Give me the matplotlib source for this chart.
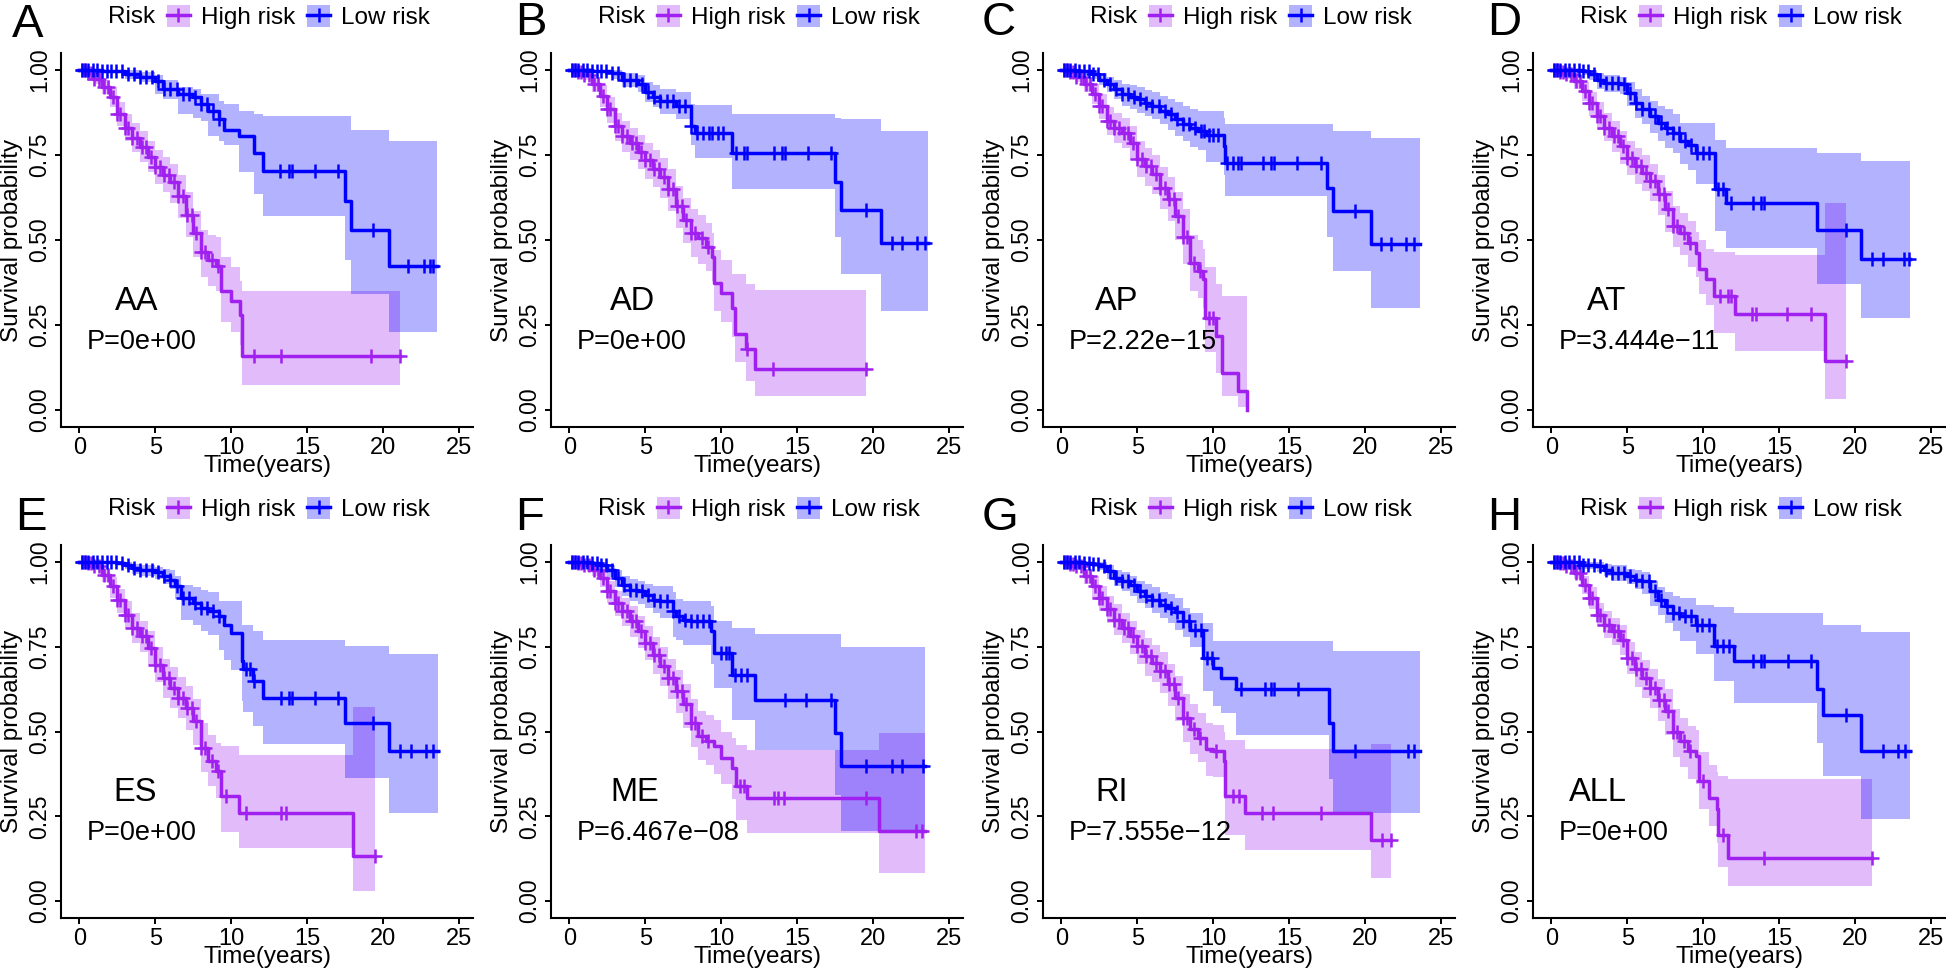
import numpy as np
import matplotlib.pyplot as plt
from matplotlib.patches import Patch
from matplotlib.lines import Line2D

plt.rcParams['font.family'] = ['Liberation Sans', 'DejaVu Sans']

# ---- data: rows are (time, survival, lower CI, upper CI) ----
panel_letters = ['A', 'B', 'C', 'D', 'E', 'F', 'G', 'H']
set_names = ['AA', 'AD', 'AP', 'AT', 'ES', 'ME', 'RI', 'ALL']
p_values = ['P=0e+00', 'P=0e+00', 'P=2.22e\u221215', 'P=3.444e\u221211',
            'P=0e+00', 'P=6.467e\u221208', 'P=7.555e\u221212', 'P=0e+00']
groups = ['High risk', 'Low risk']

# censoring marks seen densely along the early part of every curve
high_early_cens = [0.2, 0.4, 0.6, 0.8, 1.0, 1.3, 1.6, 1.9, 2.2, 2.5, 2.7, 3.0, 3.2,
                   3.5, 3.8, 4.1, 4.4, 4.7, 5.0, 5.3, 5.6, 5.9, 6.2, 6.5, 6.8, 7.1,
                   7.4, 7.7, 8.0, 8.3, 8.7, 9.1]
low_early_cens = [0.2, 0.4, 0.6, 0.9, 1.2, 1.5, 1.8, 2.1, 2.4, 2.8, 3.2, 3.6, 4.0,
                  4.4, 4.8, 5.2, 5.6, 6.0, 6.4, 6.8, 7.2, 7.6, 8.0, 8.4, 8.8, 9.2]

aa_high = [(0, 1, 1, 1), (0.5, .99, .98, 1), (1.0, .975, .96, .99), (1.5, .95, .93, .97),
           (2.0, .92, .89, .95), (2.5, .87, .835, .905), (3.0, .83, .79, .87),
           (3.5, .80, .76, .845), (4.0, .775, .73, .82), (4.5, .745, .70, .79),
           (5.0, .715, .665, .765), (5.5, .69, .64, .745), (6.0, .67, .61, .725),
           (6.5, .63, .565, .69), (7.0, .575, .51, .64), (7.5, .52, .45, .585),
           (8.0, .465, .39, .53), (8.5, .44, .365, .515), (9.0, .425, .35, .51),
           (9.35, .35, .26, .45), (10.0, .32, .23, .42), (10.55, .28, .19, .38),
           (10.7, .16, .075, .35), (21.1, .16, .075, .35)]
aa_high_cens = [11.5, 13.3, 19.2, 21.1]
aa_low = [(0, 1, 1, 1), (1.5, .997, .99, 1), (3.0, .987, .975, 1), (4.0, .98, .965, .995),
          (5.0, .968, .93, .985), (5.5, .943, .915, .97), (6.5, .93, .87, .95),
          (7.5, .92, .86, .945), (8.0, .90, .85, .93), (8.5, .88, .805, .93),
          (9.2, .855, .79, .91), (9.5, .825, .78, .90), (10.5, .805, .70, .88),
          (11.5, .757, .635, .87), (12.1, .703, .57, .865), (17.5, .615, .44, .865),
          (17.9, .528, .34, .825), (20.4, .425, .23, .79), (23.5, .425, .23, .79)]
aa_low_cens = [13.2, 13.8, 14.0, 15.5, 17.0, 19.3, 21.6, 22.7, 23.1, 23.3]

ad_high = [(0, 1, 1, 1), (0.5, .995, .99, 1), (1.0, .985, .97, 1), (1.5, .96, .935, .98),
           (2.0, .925, .89, .955), (2.5, .885, .845, .92), (3.0, .835, .79, .875),
           (3.5, .805, .76, .85), (4.0, .785, .735, .83), (4.5, .76, .71, .81),
           (5.0, .735, .68, .785), (5.5, .71, .655, .765), (6.0, .685, .625, .74),
           (6.5, .65, .585, .71), (7.0, .60, .535, .66), (7.5, .56, .49, .625),
           (8.0, .52, .45, .59), (8.5, .505, .43, .575), (9.0, .48, .41, .55),
           (9.4, .45, .38, .52), (9.5, .375, .29, .47), (10.0, .345, .26, .44),
           (10.7, .30, .215, .40), (10.9, .225, .14, .40), (11.6, .18, .085, .37),
           (12.2, .12, .04, .353), (19.5, .12, .04, .353)]
ad_high_cens = [11.7, 13.4, 19.5]
ad_low = [(0, 1, 1, 1), (1.5, .998, .99, 1), (2.8, .99, .975, 1), (3.5, .972, .95, .99),
          (4.5, .96, .935, .985), (5.0, .935, .905, .965), (5.5, .922, .89, .955),
          (6.0, .91, .87, .945), (7.0, .895, .855, .935), (8.0, .835, .78, .90),
          (8.3, .816, .74, .896), (10.7, .757, .65, .87), (17.5, .67, .51, .86),
          (17.9, .587, .40, .855), (20.5, .49, .29, .82), (23.6, .49, .29, .82)]
ad_low_cens = [9.4, 9.8, 10.1, 11.0, 11.5, 11.7, 13.5, 14.0, 14.2, 15.7, 17.2, 19.5,
               21.2, 21.9, 22.9, 23.4]

ap_high = [(0, 1, 1, 1), (0.5, .995, .99, 1), (1.0, .98, .965, .995), (1.5, .96, .935, .98),
           (2.0, .93, .90, .96), (2.5, .895, .855, .93), (3.0, .85, .81, .89),
           (3.5, .83, .785, .875), (4.0, .815, .77, .86), (4.5, .785, .735, .835),
           (5.0, .737, .685, .79), (5.5, .718, .66, .77), (6.0, .693, .635, .75),
           (6.5, .654, .59, .715), (7.0, .62, .555, .685), (7.5, .57, .50, .64),
           (8.0, .51, .43, .59), (8.5, .433, .35, .515), (9.0, .41, .33, .50),
           (9.3, .385, .30, .475), (9.45, .27, .17, .42), (10.2, .218, .11, .37),
           (10.6, .11, .04, .335), (11.6, .056, .01, .335), (12.2, 0, 0, .335)]
ap_high_cens = [9.7, 10.0]
ap_low = [(0, 1, 1, 1), (1.0, .997, .99, 1), (2.0, .987, .975, 1), (2.5, .97, .955, .99),
          (3.0, .958, .935, .98), (3.5, .943, .915, .97), (4.0, .928, .895, .96),
          (4.5, .92, .885, .955), (5.0, .914, .875, .95), (5.5, .904, .865, .94),
          (6.0, .894, .855, .935), (6.5, .88, .84, .925), (7.0, .87, .825, .915),
          (7.5, .855, .805, .905), (8.0, .84, .79, .895), (8.5, .83, .775, .885),
          (9.0, .82, .765, .88), (9.5, .81, .73, .88), (10.7, .776, .69, .86),
          (10.8, .727, .63, .84), (17.5, .654, .51, .84), (17.9, .585, .41, .82),
          (20.4, .487, .30, .80), (23.6, .487, .30, .80)]
ap_low_cens = [9.4, 9.7, 10.0, 10.3, 10.9, 11.3, 11.6, 11.8, 13.3, 13.8, 14.0, 15.5,
               17.1, 19.3, 21.0, 21.7, 22.7, 23.2]

at_high = [(0, 1, 1, 1), (0.5, .995, .99, 1), (1.0, .987, .975, .997), (1.5, .968, .945, .985),
           (2.0, .938, .91, .965), (2.5, .904, .865, .935), (3.0, .865, .825, .905),
           (3.5, .83, .79, .875), (4.0, .806, .76, .85), (4.5, .776, .725, .82),
           (5.0, .742, .69, .79), (5.5, .718, .665, .77), (6.0, .698, .645, .75),
           (6.5, .673, .615, .725), (7.0, .634, .575, .69), (7.5, .59, .525, .645),
           (8.0, .54, .48, .60), (8.5, .52, .455, .58), (9.0, .49, .42, .555),
           (9.5, .463, .39, .525), (9.7, .414, .34, .50), (10.2, .384, .31, .475),
           (10.7, .335, .227, .465), (12.1, .283, .174, .455), (18.0, .144, .033, .61),
           (19.4, .144, .033, .61)]
at_high_cens = [11.1, 11.6, 11.8, 13.2, 13.5, 15.5, 17.1, 19.4]
at_low = [(0, 1, 1, 1), (2.0, .997, .985, 1), (2.5, .987, .97, 1), (3.0, .97, .945, .99),
          (3.5, .963, .935, .985), (4.5, .958, .93, .98), (5.0, .933, .895, .965),
          (5.5, .904, .86, .945), (6.0, .884, .84, .925), (6.5, .865, .815, .91),
          (7.0, .845, .79, .895), (7.5, .83, .77, .885), (8.0, .816, .755, .87),
          (8.5, .79, .725, .845), (9.0, .78, .705, .843), (9.5, .755, .665, .843),
          (10.8, .65, .526, .794), (11.5, .61, .477, .77), (17.5, .53, .37, .757),
          (20.4, .445, .27, .732), (23.6, .445, .27, .732)]
at_low_cens = [9.6, 10.0, 10.4, 11.0, 11.3, 11.8, 13.3, 13.8, 14.0, 19.4, 21.1, 21.8,
               23.2, 23.5]

es_high = [(0, 1, 1, 1), (0.5, .997, .99, 1), (1.0, .987, .975, .997), (1.5, .963, .94, .98),
           (2.0, .928, .895, .955), (2.5, .889, .85, .92), (3.0, .845, .805, .885),
           (3.5, .805, .76, .85), (4.0, .781, .735, .825), (4.5, .747, .695, .795),
           (5.0, .697, .645, .75), (5.5, .658, .60, .715), (6.0, .629, .57, .69),
           (6.5, .60, .54, .66), (7.0, .57, .505, .635), (7.5, .53, .46, .595),
           (8.0, .452, .38, .525), (8.5, .413, .34, .49), (9.0, .383, .305, .465),
           (9.3, .31, .203, .457), (10.5, .26, .157, .432), (18.0, .133, .03, .572),
           (19.45, .133, .03, .572)]
es_high_cens = [9.65, 11.0, 13.3, 13.6, 19.45]
es_low = [(0, 1, 1, 1), (2.5, .997, .99, 1), (3.0, .992, .98, 1), (3.5, .982, .965, .995),
          (4.0, .977, .96, .99), (5.0, .97, .95, .985), (5.5, .958, .935, .98),
          (6.0, .948, .92, .975), (6.3, .928, .89, .96), (6.7, .894, .83, .933),
          (7.5, .879, .815, .925), (8.0, .864, .796, .918), (8.5, .855, .785, .91),
          (9.2, .84, .74, .884), (9.5, .815, .71, .884), (10.0, .79, .68, .884),
          (10.7, .707, .59, .815), (10.8, .683, .557, .815), (11.4, .648, .516, .796),
          (12.1, .60, .464, .771), (17.5, .525, .363, .753), (20.4, .442, .26, .729),
          (23.6, .442, .26, .729)]
es_low_cens = [11.0, 11.2, 11.5, 13.3, 13.8, 14.0, 15.5, 17.0, 19.3, 21.1, 21.8, 22.8, 23.3]

me_high = [(0, 1, 1, 1), (0.5, .997, .99, 1), (1.0, .992, .98, 1), (1.5, .977, .96, .99),
           (2.0, .953, .925, .975), (2.5, .914, .88, .945), (3.0, .879, .84, .915),
           (3.5, .855, .81, .895), (4.0, .825, .78, .87), (4.5, .796, .745, .84),
           (5.0, .761, .71, .81), (5.5, .727, .67, .78), (6.0, .693, .635, .75),
           (6.5, .658, .595, .715), (7.0, .619, .555, .68), (7.5, .58, .51, .64),
           (8.0, .526, .455, .595), (8.5, .486, .415, .56), (9.0, .472, .40, .55),
           (9.5, .457, .375, .535), (10.0, .422, .345, .50), (10.7, .393, .30, .48),
           (11.0, .339, .24, .46), (11.7, .305, .20, .444), (20.4, .206, .084, .496),
           (23.4, .206, .084, .496)]
me_high_cens = [11.2, 11.5, 13.5, 13.7, 14.1, 19.5, 22.8, 23.2]
me_low = [(0, 1, 1, 1), (1.5, .997, .99, 1), (2.0, .992, .975, 1), (2.5, .977, .955, .99),
          (3.0, .953, .925, .975), (3.5, .933, .90, .96), (4.0, .918, .885, .95),
          (4.5, .913, .875, .945), (5.0, .904, .865, .935), (5.5, .889, .85, .93),
          (6.0, .884, .835, .93), (6.8, .855, .78, .91), (7.0, .84, .77, .89),
          (7.5, .83, .756, .884), (8.0, .827, .756, .884), (9.3, .796, .70, .87),
          (9.5, .732, .629, .825), (10.7, .668, .535, .805), (12.2, .594, .444, .789),
          (17.5, .496, .314, .789), (17.9, .398, .206, .75), (23.4, .398, .206, .75)]
me_low_cens = [10.0, 10.3, 10.5, 10.9, 11.3, 11.7, 14.2, 15.6, 17.2, 19.5, 21.2, 21.9, 23.3]

ri_high = [(0, 1, 1, 1), (0.5, .995, .99, 1), (1.0, .987, .975, .997), (1.5, .958, .935, .98),
           (2.0, .928, .895, .96), (2.5, .894, .855, .93), (3.0, .86, .82, .90),
           (3.5, .83, .785, .875), (4.0, .805, .76, .85), (4.5, .781, .73, .825),
           (5.0, .751, .70, .80), (5.5, .722, .665, .775), (6.0, .702, .645, .755),
           (6.5, .678, .615, .735), (7.0, .639, .575, .70), (7.5, .60, .53, .665),
           (8.0, .54, .47, .61), (8.5, .506, .435, .58), (9.0, .481, .41, .555),
           (9.5, .447, .37, .525), (10.0, .442, .365, .52), (10.7, .413, .30, .50),
           (10.8, .309, .196, .476), (12.1, .26, .152, .447), (20.4, .179, .067, .462),
           (21.7, .179, .067, .462)]
ri_high_cens = [10.2, 11.3, 11.7, 13.2, 13.9, 17.1, 21.1, 21.7]
ri_low = [(0, 1, 1, 1), (1.5, .998, .99, 1), (2.0, .995, .985, 1), (2.5, .987, .975, 1),
          (3.0, .972, .95, .99), (3.5, .953, .93, .975), (4.0, .943, .915, .97),
          (4.5, .933, .90, .96), (5.0, .914, .88, .945), (5.5, .899, .865, .935),
          (6.0, .889, .85, .925), (6.5, .872, .835, .91), (7.0, .864, .82, .905),
          (7.5, .853, .80, .895), (8.0, .825, .78, .864), (8.5, .80, .75, .85),
          (9.3, .717, .62, .82), (10.0, .688, .575, .768), (10.5, .658, .555, .768),
          (11.5, .624, .49, .768), (17.6, .526, .36, .768), (17.9, .442, .26, .737),
          (23.6, .442, .26, .737)]
ri_low_cens = [9.6, 9.9, 11.8, 13.4, 13.8, 14.0, 15.6, 19.3, 22.8, 23.2]

all_high = [(0, 1, 1, 1), (0.5, .997, .99, 1), (1.0, .987, .975, .997), (1.5, .968, .95, .985),
            (2.0, .933, .905, .96), (2.5, .894, .86, .925), (3.0, .845, .81, .88),
            (3.5, .815, .775, .855), (4.0, .796, .755, .835), (4.5, .771, .725, .815),
            (5.0, .717, .67, .765), (5.5, .683, .63, .735), (6.0, .658, .60, .71),
            (6.5, .629, .57, .685), (7.0, .594, .53, .655), (7.5, .56, .49, .625),
            (8.0, .50, .425, .565), (8.5, .472, .395, .54), (9.0, .442, .36, .515),
            (9.5, .427, .345, .505), (9.7, .354, .27, .44), (10.4, .305, .22, .40),
            (10.9, .27, .17, .38), (11.0, .196, .10, .37), (11.6, .128, .044, .36),
            (21.1, .128, .044, .36)]
all_high_cens = [10.0, 11.3, 14.0, 21.1]
all_low = [(0, 1, 1, 1), (2.0, .992, .98, 1), (3.0, .987, .97, 1), (3.5, .977, .96, .995),
           (4.0, .968, .945, .99), (5.0, .958, .935, .98), (5.5, .948, .92, .975),
           (6.0, .943, .905, .97), (6.5, .914, .87, .945), (7.0, .889, .845, .925),
           (7.5, .869, .82, .91), (8.0, .85, .795, .90), (8.5, .84, .766, .894),
           (9.5, .815, .73, .872), (10.7, .751, .648, .866), (12.0, .707, .584, .85),
           (17.5, .624, .467, .85), (17.9, .55, .368, .815), (20.4, .442, .243, .793),
           (23.6, .442, .243, .793)]
all_low_cens = [9.6, 9.9, 10.4, 10.9, 11.3, 11.7, 13.3, 13.8, 14.0, 15.6, 17.1, 19.4,
                21.8, 22.8, 23.3]

high_curves = [aa_high, ad_high, ap_high, at_high, es_high, me_high, ri_high, all_high]
high_cens = [aa_high_cens, ad_high_cens, ap_high_cens, at_high_cens,
             es_high_cens, me_high_cens, ri_high_cens, all_high_cens]
low_curves = [aa_low, ad_low, ap_low, at_low, es_low, me_low, ri_low, all_low]
low_cens = [aa_low_cens, ad_low_cens, ap_low_cens, at_low_cens,
            es_low_cens, me_low_cens, ri_low_cens, all_low_cens]

# ---- layout ----
high_color = '#A020F0'
low_color = '#0000FF'
name_x = [3.76, 4.15, 3.63, 3.63, 3.7, 4.28, 3.3, 3.08]
ax_left_px = [61, 551, 1043, 1533]
letter_pos_px = [(12, 37), (515, 35), (982, 35), (1487, 35),
                 (15, 530), (515, 530), (982, 530), (1487, 530)]

W, H = 1946, 968
fig = plt.figure(figsize=(W / 100, H / 100), dpi=100)


def draw_curve(ax, rows, cens, color):
    t, s, lo, hi = np.array(rows, dtype=float).T
    ax.fill_between(t, lo, hi, step='post', color=color, alpha=0.3, lw=0)
    ax.step(t, s, where='post', color=color, lw=2.5)
    cens = np.array([c for c in cens if c <= t[-1]])
    idx = np.searchsorted(t, cens, side='right') - 1
    ax.plot(cens, s[idx], ls='none', marker='+', ms=10, mew=1.8, color=color)


for i in range(8):
    row, col = divmod(i, 4)
    top_px = 53 if row == 0 else 545
    height_px = 374 if row == 0 else 373
    ax = fig.add_axes([ax_left_px[col] / W, 1 - (top_px + height_px) / H,
                       412 / W, height_px / H])

    early_high = [c for c in high_early_cens if c < high_curves[i][-1][0]]
    draw_curve(ax, high_curves[i], early_high + high_cens[i], high_color)
    draw_curve(ax, low_curves[i], low_early_cens + low_cens[i], low_color)

    ax.set_xlim(-1.2, 25.9)
    ax.set_ylim(-0.05, 1.05)
    ax.set_xticks([0, 5, 10, 15, 20, 25])
    ax.set_yticks([0, 0.25, 0.5, 0.75, 1.0])
    ax.set_yticklabels(['0.00', '0.25', '0.50', '0.75', '1.00'],
                       rotation=90, va='center')
    ax.tick_params(axis='x', labelsize=17, width=1.4, length=4, pad=3)
    ax.tick_params(axis='y', labelsize=16.5, width=1.4, length=4, pad=3)
    for side in ['top', 'right']:
        ax.spines[side].set_visible(False)
    for side in ['left', 'bottom']:
        ax.spines[side].set_linewidth(1.5)
    ax.set_xlabel('Time(years)', fontsize=17.5, labelpad=-3)
    ax.set_ylabel('Survival probability', fontsize=17.5, labelpad=4)

    ax.text(name_x[i], 0.32, set_names[i], fontsize=23.5, ha='center', va='center')
    ax.text(0.5, 0.2, p_values[i], fontsize=19.5, ha='left', va='center')

    handles = [(Patch(facecolor=high_color, alpha=0.3, lw=0),
                Line2D([], [], color=high_color, lw=2.5, marker='+', ms=10, mew=1.8)),
               (Patch(facecolor=low_color, alpha=0.3, lw=0),
                Line2D([], [], color=low_color, lw=2.5, marker='+', ms=10, mew=1.8))]
    ax.text(0.114, 1.096, 'Risk', transform=ax.transAxes, fontsize=17.5,
            ha='left', va='center')
    ax.legend(handles, groups, ncol=2, frameon=False, loc='center left',
              bbox_to_anchor=(0.257, 1.096), fontsize=17.5, handlelength=0.95,
              handleheight=1.0, handletextpad=0.45, columnspacing=0.5,
              borderpad=0, borderaxespad=0)

    lx, ly = letter_pos_px[i]
    fig.text(lx / W, 1 - ly / H, panel_letters[i], fontsize=34,
             ha='left', va='baseline')

fig.savefig('out.png', dpi=100)
